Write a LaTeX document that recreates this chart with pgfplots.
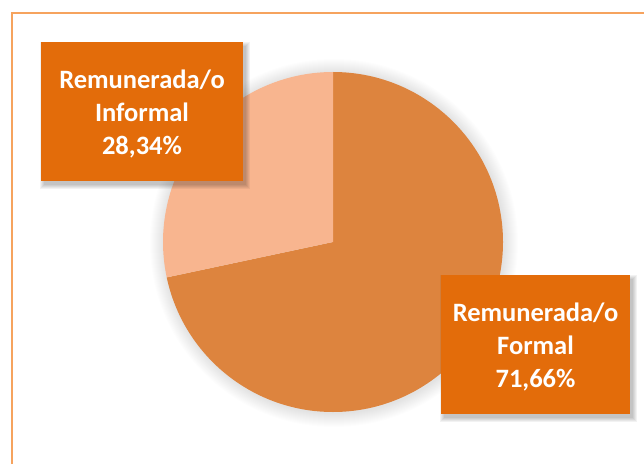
\documentclass[border=0pt]{standalone}
\usepackage{pgfplots}
\pgfplotsset{compat=1.18}
\usepackage{pgfplotstable}
\usepackage{fontspec}
\setmainfont{Carlito}
\definecolor{formal}{RGB}{221,132,62}
\definecolor{informal}{RGB}{248,181,143}
\definecolor{boxc}{RGB}{227,108,10}
\definecolor{framec}{RGB}{246,163,94}
\pgfplotstableread{
cat value
Formal 71.66
Informal 28.34
}\piedata
\begin{document}
\begin{tikzpicture}
\pgfplotstablegetelem{0}{value}\of\piedata \let\vformal\pgfplotsretval
\pgfplotstablegetelem{1}{value}\of\piedata \let\vinformal\pgfplotsretval
\pgfmathsetmacro{\aend}{90-3.6*\vformal}
\begin{axis}[scale only axis, width=644pt, height=464pt,
  xmin=0, xmax=644, ymin=0, ymax=464, hide axis, clip=true]
% full canvas
\path (axis cs:0,0) rectangle (axis cs:644,464);
% outer frame
\draw[framec, line width=2pt] (axis cs:11.5,0) -- (axis cs:11.5,450.5) -- (axis cs:644,450.5);
% soft glow around the pie
\pgfplotsinvokeforeach{1,...,14}{
  \fill[black, opacity=0.007] (axis cs:334,221) circle[radius=170pt+#1pt];
}
% pie wedges
\fill[formal] (axis cs:333,222) -- ++(90:170pt) arc[start angle=90, end angle=\aend, radius=170pt] -- cycle;
\fill[informal] (axis cs:333,222) -- ++(\aend:170pt) arc[start angle=\aend, end angle=-270, radius=170pt] -- cycle;
% box shadows
\pgfplotsinvokeforeach{0,...,4}{
  \fill[black, opacity=0.05] (axis cs:44-#1,279-#1) rectangle (axis cs:246+#1,418+#1);
  \fill[black, opacity=0.05] (axis cs:444-#1,46-#1) rectangle (axis cs:633+#1,185+#1);
}
% boxes
\fill[boxc] (axis cs:41,283) rectangle (axis cs:243,422);
\fill[boxc] (axis cs:441,50) rectangle (axis cs:630,189);
% labels
\node[text=white, font=\fontsize{26.5}{33}\selectfont\bfseries, align=center] at (axis cs:142,350) {Remunerada/o\\Informal\\28,34\%};
\node[text=white, font=\fontsize{26.5}{33}\selectfont\bfseries, align=center] at (axis cs:535.5,117) {Remunerada/o\\Formal\\71,66\%};
\end{axis}
\end{tikzpicture}
\end{document}
